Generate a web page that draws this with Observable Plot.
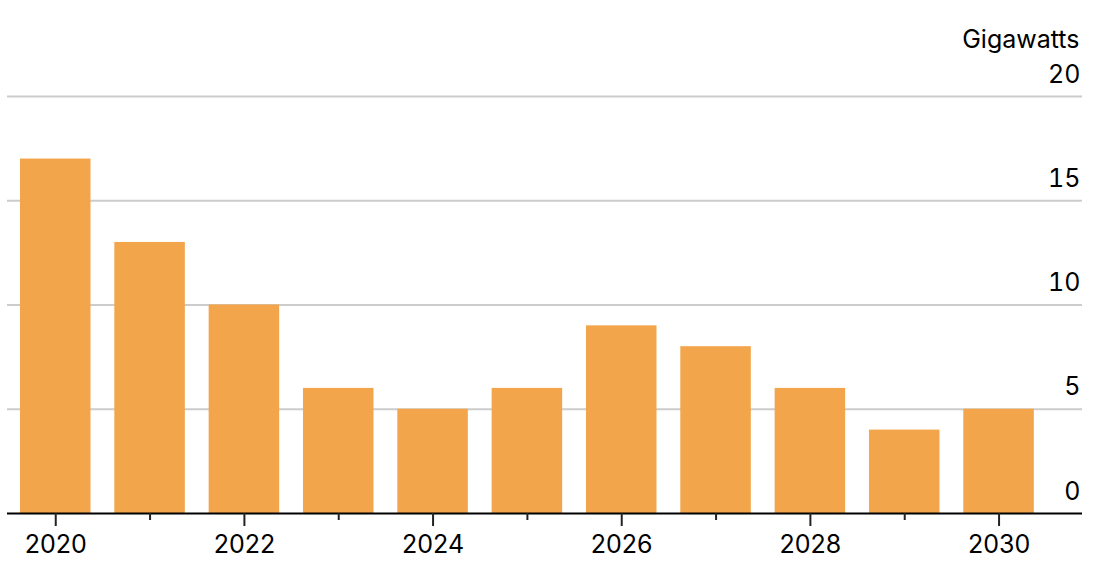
<!DOCTYPE html>
<html>
<head>
<meta charset="utf-8">
<script src="https://cdn.jsdelivr.net/npm/d3@7"></script>
<script src="https://cdn.jsdelivr.net/npm/@observablehq/plot@0.6"></script>
<style>
  html, body { margin: 0; padding: 0; background: #fff; }
  #chart svg { display: block; }
</style>
</head>
<body>
<div id="chart"></div>
<script>
const years = [2020, 2021, 2022, 2023, 2024, 2025, 2026, 2027, 2028, 2029, 2030];
const gigawatts = [17, 13, 10, 6, 5, 6, 9, 8, 6, 4, 5];
const yTicks = [0, 5, 10, 15, 20];
const labeledYears = [2020, 2022, 2024, 2026, 2028, 2030];
const unlabeledYears = [2021, 2023, 2025, 2027, 2029];
const unitLabel = "Gigawatts";

const data = years.map((year, i) => ({year, value: gigawatts[i]}));
const font = "Inter, 'Liberation Sans', Arial, sans-serif";

const chart = Plot.plot({
  width: 1120,
  height: 572,
  marginTop: 96,
  marginBottom: 59,
  marginLeft: 7,
  marginRight: 38,
  style: {fontFamily: font, fontSize: "25px", color: "#000", background: "#fff"},
  x: {type: "band", domain: years, range: [8.1, 1045.7], paddingInner: 0.2525, paddingOuter: 0.126, round: false},
  y: {domain: [0, 20]},
  marks: [
    Plot.ruleY(yTicks.filter(d => d > 0), {stroke: "#cccccc", strokeWidth: 2}),
    Plot.barY(data, {x: "year", y: "value", fill: "#F2A54A"}),
    Plot.ruleY([0], {stroke: "#000", strokeWidth: 2}),
    Plot.axisY(yTicks, {anchor: "right", tickSize: 0, tickPadding: 0, textAnchor: "end", dx: -2, dy: -22, label: null, fontSize: 25}),
    Plot.axisX({ticks: labeledYears, tickSize: 13, tickPadding: 9, strokeWidth: 2, stroke: "#222", label: null, tickFormat: d => String(d), fontSize: 25}),
    Plot.axisX({ticks: unlabeledYears, tickSize: 7, strokeWidth: 2, stroke: "#222", label: null, tickFormat: () => ""}),
    Plot.text([unitLabel], {frameAnchor: "top-right", textAnchor: "end", lineAnchor: "middle", dx: -3, dy: -57, fontSize: 25, fill: "#000"})
  ]
});
document.getElementById("chart").appendChild(chart);
</script>
</body>
</html>
